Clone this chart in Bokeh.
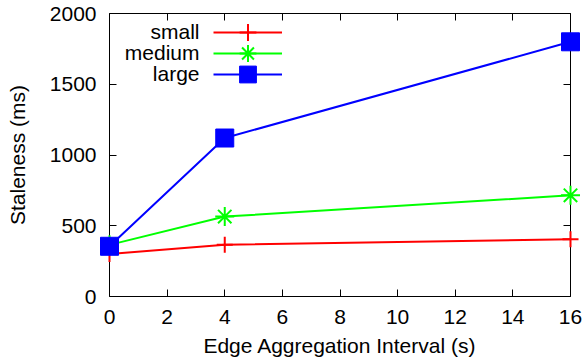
from bokeh.plotting import figure
from bokeh.models import Range1d, LinearAxis, Legend, LegendItem, Label, GlyphRenderer
from bokeh.embed import file_html
from bokeh.resources import INLINE

# ---- data ----
intervals = [0, 4, 16]
small = [300, 365, 405]
medium = [365, 565, 715]
large = [355, 1120, 1800]
series_names = ["small", "medium", "large"]
x_ticks = [0, 2, 4, 6, 8, 10, 12, 14, 16]
y_ticks = [0, 500, 1000, 1500, 2000]

FONT = "Liberation Sans"
FS = "21px"

p = figure(width=587, height=364, output_backend="svg", toolbar_location=None,
           x_range=Range1d(0, 16), y_range=Range1d(0, 2000),
           min_border_left=109, min_border_right=17, min_border_top=13, min_border_bottom=68,
           x_axis_label="Edge Aggregation Interval (s)", y_axis_label="Staleness (ms)")
p.outline_line_color = None
p.xgrid.visible = False
p.ygrid.visible = False
p.background_fill_color = "white"
p.border_fill_color = "white"

xa = p.xaxis[0]
ya = p.yaxis[0]

top = LinearAxis(major_label_text_font_size="0px", major_label_standoff=0)
right = LinearAxis(major_label_text_font_size="0px", major_label_standoff=0)
p.add_layout(top, "above")
p.add_layout(right, "right")

for ax in [xa, top]:
    ax.ticker = x_ticks
for ax in [ya, right]:
    ax.ticker = y_ticks
for ax in [xa, ya, top, right]:
    ax.major_tick_in = 7
    ax.major_tick_out = 0
    ax.minor_tick_line_color = None
    ax.axis_line_color = "black"
    ax.major_tick_line_color = "black"
    ax.axis_line_width = 1
    ax.major_label_text_font = FONT
    ax.major_label_text_color = "black"
    ax.axis_label_text_font = FONT
    ax.axis_label_text_font_size = FS
    ax.axis_label_text_font_style = "normal"
    ax.axis_label_text_color = "black"
top.major_label_overrides = {t: "" for t in x_ticks}
right.major_label_overrides = {t: "" for t in y_ticks}

xa.major_label_text_font_size = FS
xa.major_label_standoff = 13
xa.axis_label_standoff = 7
ya.major_label_text_font_size = FS
ya.major_label_standoff = 13
ya.axis_label_standoff = 18

colors = ["#ff0000", "#00ff00", "#0000ff"]
markers = ["cross", "asterisk", "square"]
sizes = [16, 19, 18]
series = [small, medium, large]

clip_props = [k for k in GlyphRenderer.properties() if "clip" in k]

legend_bottoms = [243, 222, 201]
label_baselines = [265, 244, 223]
for name, vals, c, m, s, lb, tb in zip(series_names, series, colors, markers, sizes,
                                       legend_bottoms, label_baselines):
    ln = p.line(intervals, vals, line_color=c, line_width=2, level="overlay")
    if m == "square":
        sc = p.scatter(intervals, vals, marker=m, size=s, fill_color=c, line_color=c,
                       line_width=1, level="overlay")
    else:
        sc = p.scatter(intervals, vals, marker=m, size=s, line_color=c, line_width=2,
                       level="overlay")
    for r in (ln, sc):
        for cp in clip_props:
            try:
                setattr(r, cp, False)
            except Exception:
                pass
    leg = Legend(items=[LegendItem(label=" ", renderers=[ln, sc])], location=(104, lb),
                 glyph_width=69, glyph_height=42, spacing=0,
                 label_width=0, label_height=0, label_standoff=0,
                 label_text_font_size="6px",
                 padding=0, margin=0, border_line_color=None,
                 background_fill_alpha=0)
    p.add_layout(leg, "center")
    p.add_layout(Label(x=90, y=tb, x_units="screen", y_units="screen", text=name,
                       text_align="right", text_baseline="alphabetic",
                       text_font=FONT, text_font_size=FS, text_color="black"))

open("out.html", "w").write(file_html(p, INLINE))
